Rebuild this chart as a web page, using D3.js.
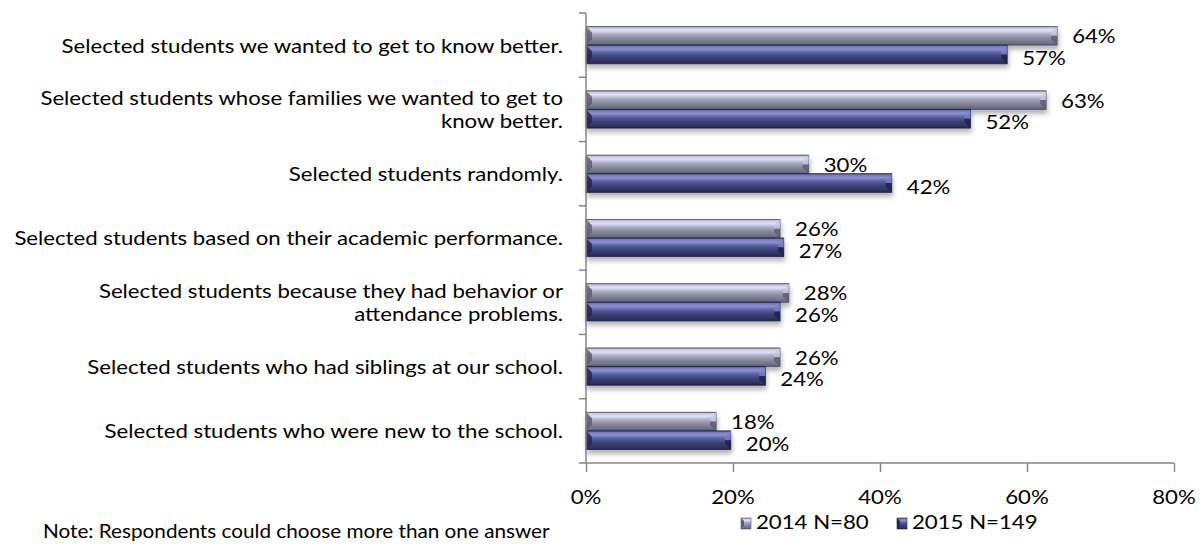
<!DOCTYPE html>
<html>
<head>
<meta charset="utf-8">
<script src="https://cdn.jsdelivr.net/npm/d3@7"></script>
<style>
  html, body { margin: 0; padding: 0; background: #fff; }
  svg { display: block; }
  text { font-family: Lato, "Open Sans", sans-serif; fill: #000; }
</style>
</head>
<body>
<svg width="1201" height="546"></svg>
<script>
// categories, top to bottom (line breaks as in the original)
const categories = [
  ["Selected students we wanted to get to know better."],
  ["Selected students whose families we wanted to get to", "know better."],
  ["Selected students randomly."],
  ["Selected students based on their academic performance."],
  ["Selected students because they had behavior or", "attendance problems."],
  ["Selected students who had siblings at our school."],
  ["Selected students who were new to the school."]
]
const values2014 = [64.1, 62.6, 30.3, 26.4, 27.6, 26.4, 17.7]
const values2015 = [57.3, 52.3, 41.6, 26.9, 26.4, 24.4, 19.7]
const seriesNames = ["2014 N=80", "2015 N=149"]
const xTicks = [0, 20, 40, 60, 80]

let svg = d3.select('svg')
const plotLeft = 586, plotRight = 1174, plotTop = 13, plotBottom = 463
const fontSize = 18.5
const stretch = 1.2   // the original picture is stretched sideways

const x = d3.scaleLinear().domain([0, 80]).range([plotLeft, plotRight])
const y = d3.scaleBand().domain(d3.range(categories.length)).range([plotTop, plotBottom]).paddingInner(0.42).paddingOuter(0.21)
const y2 = d3.scaleBand().domain([0, 1]).range([0, y.bandwidth()])

function label(g, tx, ty, str, anchor, sx) {
  return g.append('text')
    .attr('transform', `translate(${tx},${ty}) scale(${sx || stretch},1)`)
    .attr('dy', '0.35em')
    .attr('text-anchor', anchor || 'start')
    .attr('font-size', fontSize)
    .text(str)
}

const defs = svg.append('defs')
const grads = [
  { id: 'g2014', stops: [[0, '#76768c'], [0.07, '#c6c8e4'], [0.22, '#e0e1f6'], [0.42, '#aaabc5'], [0.65, '#88889e'], [0.88, '#717186'], [1, '#55556a']] },
  { id: 'g2015', stops: [[0, '#3a3e74'], [0.07, '#747bbf'], [0.22, '#8b92d2'], [0.42, '#575e9f'], [0.65, '#3d4177'], [0.88, '#2f325f'], [1, '#23254b']] }
]
grads.forEach(g => {
  const lg = defs.append('linearGradient').attr('id', g.id).attr('x1', 0).attr('y1', 0).attr('x2', 0).attr('y2', 1)
  g.stops.forEach(s => lg.append('stop').attr('offset', s[0]).attr('stop-color', s[1]))
})
const shadow = defs.append('filter').attr('id', 'shadow').attr('x', '-5%').attr('y', '-30%').attr('width', '115%').attr('height', '180%')
shadow.append('feGaussianBlur').attr('in', 'SourceAlpha').attr('stdDeviation', 2.5)
shadow.append('feOffset').attr('dx', 1).attr('dy', 4).attr('result', 'blur')
shadow.append('feComponentTransfer').append('feFuncA').attr('type', 'linear').attr('slope', 0.3)
const merge = shadow.append('feMerge')
merge.append('feMergeNode')
merge.append('feMergeNode').attr('in', 'SourceGraphic')

// bars
const series = [
  { name: seriesNames[0], values: values2014, fill: 'url(#g2014)', left: '#5d5d74', end: ['#c8c9df', '#5a5a70'], stroke: '#55556a' },
  { name: seriesNames[1], values: values2015, fill: 'url(#g2015)', left: '#262852', end: ['#7b82c4', '#1f2145'], stroke: '#23254b' }
]

function bar(g, x0, x1, y0, h, s) {
  const b = Math.min(6, (x1 - x0) / 2)
  const y1 = y0 + h
  const bg = g.append('g').attr('filter', 'url(#shadow)')
  bg.append('rect').attr('x', x0).attr('y', y0).attr('width', x1 - x0).attr('height', h)
    .attr('fill', s.fill).attr('stroke', s.stroke).attr('stroke-width', 0.8)
  // left bevel
  bg.append('path').attr('d', `M${x0},${y0}L${x0 + b},${y0 + b}L${x0 + b},${y1 - b}L${x0},${y1}Z`)
    .attr('fill', s.left).attr('opacity', 0.85)
  // right bevel: light upper face, dark lower face
  bg.append('path').attr('d', `M${x1},${y0}L${x1 - b},${y0 + b}L${x1 - b},${(y0 + y1) / 2}L${x1},${(y0 + y1) / 2}Z`)
    .attr('fill', s.end[0]).attr('opacity', 0.7)
  bg.append('path').attr('d', `M${x1},${(y0 + y1) / 2}L${x1 - b},${(y0 + y1) / 2}L${x1 - b},${y1 - b}L${x1},${y1}Z`)
    .attr('fill', s.end[1]).attr('opacity', 0.8)
}

const barsG = svg.append('g')
categories.forEach((c, i) => {
  series.forEach((s, k) => {
    bar(barsG, x(0), x(s.values[i]), y(i) + y2(k), y2.bandwidth(), s)
  })
})

// data labels
const labelOffsets = [1, 4]
categories.forEach((c, i) => {
  series.forEach((s, k) => {
    label(svg, x(s.values[i]) + 15, y(i) + y2(k) + y2.bandwidth() / 2 + labelOffsets[k], Math.round(s.values[i]) + '%')
  })
})

// axes
const axisColor = '#868686'
const xAxis = svg.append('g').attr('transform', `translate(0,${plotBottom})`)
  .call(d3.axisBottom(x).tickValues(xTicks).tickSize(9).tickFormat(''))
xAxis.select('.domain').attr('stroke', axisColor).attr('stroke-width', 1.5).attr('d', `M${plotLeft},0H${plotRight}`)
xAxis.selectAll('.tick line').attr('stroke', axisColor).attr('stroke-width', 1.5)
xTicks.forEach(t => label(svg, x(t), plotBottom + 35, t + '%', 'middle'))

const catBounds = d3.range(categories.length + 1).map(i => plotTop + i * (plotBottom - plotTop) / categories.length)
const yAxis = svg.append('g')
yAxis.append('line').attr('x1', plotLeft).attr('x2', plotLeft).attr('y1', plotTop).attr('y2', plotBottom)
  .attr('stroke', axisColor).attr('stroke-width', 1.5)
yAxis.selectAll('.ytick').data(catBounds).join('line').attr('class', 'ytick')
  .attr('x1', plotLeft - 7).attr('x2', plotLeft).attr('y1', d => d).attr('y2', d => d)
  .attr('stroke', axisColor).attr('stroke-width', 1.5)

// category labels
const lineH = 23
categories.forEach((lines, i) => {
  const cy = plotTop + (i + 0.5) * (plotBottom - plotTop) / categories.length + 1
  lines.forEach((ln, j) => {
    label(svg, 563, cy + (j - (lines.length - 1) / 2) * lineH, ln, 'end')
  })
})

// legend
const legendX = [741, 897]
series.forEach((s, k) => {
  const lg = svg.append('g').attr('transform', `translate(${legendX[k]},518)`)
  lg.append('rect').attr('width', 10).attr('height', 11).attr('fill', s.fill).attr('stroke', s.stroke).attr('stroke-width', 0.6)
  lg.append('path').attr('d', 'M0,0L3,3L3,8L0,11Z').attr('fill', s.left)
  label(lg, 15, 5, s.name)
})

// note
label(svg, 43, 532, 'Note: Respondents could choose more than one answer', 'start', 1.12)
</script>
</body>
</html>
